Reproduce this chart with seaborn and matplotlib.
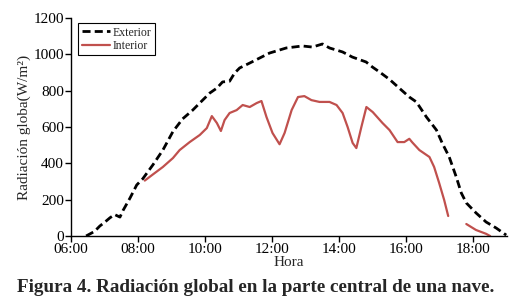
#!/usr/bin/env python3
"""
Radiacion global en la parte central de una nave.
Line chart of exterior vs interior global radiation over the day.
"""

import pandas as pd
import matplotlib
matplotlib.use("Agg")
import matplotlib.pyplot as plt
import seaborn as sns

# Data (hour as decimal, W/m2)
ext_hora = [6.45, 6.7, 6.86, 7.0, 7.16, 7.3, 7.46, 7.55, 7.76, 7.96, 8.14, 8.44,
            8.74, 9.04, 9.33, 9.63, 9.84, 10.14, 10.35, 10.52, 10.73, 10.88,
            11.03, 11.33, 11.63, 11.92, 12.42, 12.9, 13.2, 13.5, 13.71, 14.1,
            14.39, 14.8, 14.99, 15.2, 15.5, 15.79, 16.09, 16.3, 16.6, 16.9,
            17.07, 17.28, 17.49, 17.64, 17.79, 18.08, 18.38, 18.68, 18.98]
ext_rad = [0, 25, 55, 75, 100, 118, 104, 140, 209, 281, 315, 391,
           473, 575, 645, 693, 732, 787, 814, 848, 852, 897,
           925, 952, 980, 1007, 1035, 1046, 1040, 1057, 1035, 1013,
           985, 958, 930, 903, 862, 814, 765, 738, 655, 583,
           512, 435, 325, 237, 182, 127, 77, 44, 5]

# Interior series has a gap between about 17:15 and 17:45
int_hora_1 = [8.2, 8.45, 8.74, 9.04, 9.24, 9.54, 9.84, 10.05, 10.2, 10.35, 10.47,
              10.58, 10.73, 10.94, 11.12, 11.33, 11.54, 11.68, 11.83, 12.01,
              12.22, 12.37, 12.58, 12.77, 12.96, 13.17, 13.41, 13.71, 13.92,
              14.1, 14.25, 14.4, 14.51, 14.66, 14.81, 15.0, 15.29, 15.5, 15.74,
              15.94, 16.09, 16.18, 16.39, 16.69, 16.83, 16.98, 17.13, 17.25]
int_rad_1 = [305, 340, 380, 429, 473, 517, 556, 594, 660, 622, 578,
             638, 677, 693, 721, 710, 732, 743, 655, 567,
             505, 567, 693, 765, 770, 748, 738, 738, 721,
             677, 600, 512, 484, 600, 710, 682, 622, 583, 517,
             517, 535, 515, 473, 435, 380, 292, 198, 110]
int_hora_2 = [17.79, 18.08, 18.38, 18.5]
int_rad_2 = [66, 33, 12, 0]

x_ticks = [6, 8, 10, 12, 14, 16, 18]
x_tick_labels = ["06:00", "08:00", "10:00", "12:00", "14:00", "16:00", "18:00"]
y_ticks = [0, 200, 400, 600, 800, 1000, 1200]

sns.set_theme(style="ticks")
plt.rcParams['font.family'] = ['Liberation Serif', 'DejaVu Serif']

fig = plt.figure(figsize=(5.12, 3.04), dpi=100)
ax = fig.add_axes([0.1387, 0.2237, 0.8513, 0.7171])

df_ext = pd.DataFrame({'hora': ext_hora, 'rad': ext_rad})
df_int1 = pd.DataFrame({'hora': int_hora_1, 'rad': int_rad_1})
df_int2 = pd.DataFrame({'hora': int_hora_2, 'rad': int_rad_2})

sns.lineplot(data=df_ext, x='hora', y='rad', color='black', linewidth=2.0,
             ax=ax, label='Exterior').lines[-1].set_dashes((2.9, 1.5))
sns.lineplot(data=df_int1, x='hora', y='rad', color='#C0504D', linewidth=1.6,
             ax=ax, label='Interior')
sns.lineplot(data=df_int2, x='hora', y='rad', color='#C0504D', linewidth=1.6,
             ax=ax, legend=False)

ax.set_xlim(6, 19)
ax.set_ylim(0, 1200)
ax.set_xticks(x_ticks)
ax.set_xticklabels(x_tick_labels)
ax.set_yticks(y_ticks)
ax.tick_params(axis='both', direction='out', length=4, width=1, labelsize=11,
               colors='black', pad=1)
for side in ['top', 'right']:
    ax.spines[side].set_visible(False)
for side in ['left', 'bottom']:
    ax.spines[side].set_linewidth(1)
    ax.spines[side].set_color('black')

ax.set_xlabel('Hora', fontsize=11, labelpad=0)
ax.set_ylabel('Radiación globa(W/m²)', fontsize=11, labelpad=2)

leg = ax.legend(loc='upper left', bbox_to_anchor=(0.016, 0.977), borderaxespad=0,
                fontsize=8.5, frameon=True, fancybox=False, framealpha=1,
                edgecolor='black', handlelength=2.4, handletextpad=0.2,
                labelspacing=0.1, borderpad=0.3)
leg.get_frame().set_linewidth(0.8)

fig.text(0.5, 0.055, 'Figura 4. Radiación global en la parte central de una nave.',
         ha='center', va='center', fontsize=13.8, fontweight='bold')

fig.savefig('out.png', dpi=100)
